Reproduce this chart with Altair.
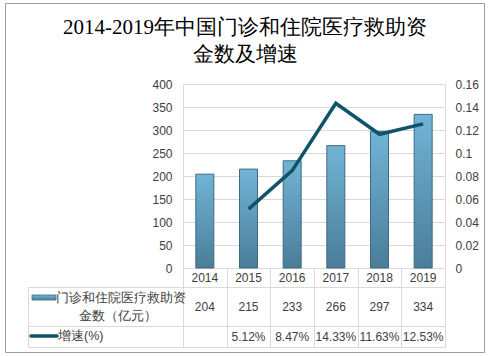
import altair as alt
import pandas as pd

years = ["2014", "2015", "2016", "2017", "2018", "2019"]
amounts = [204, 215, 233, 266, 297, 334]
growth = [None, 5.12, 8.47, 14.33, 11.63, 12.53]
growth_labels = ["", "5.12%", "8.47%", "14.33%", "11.63%", "12.53%"]
title_lines = ["2014-2019年中国门诊和住院医疗救助资", "金数及增速"]
bar_name_lines = ["门诊和住院医疗救助资", "金数（亿元）"]
line_name = "增速(%)"
left_ticks = [0, 50, 100, 150, 200, 250, 300, 350, 400]
right_ticks = [0, 0.02, 0.04, 0.06, 0.08, 0.1, 0.12, 0.14, 0.16]

df = pd.DataFrame({
    "year": years,
    "amount": amounts,
    "rate": [g / 100 if g is not None else None for g in growth],
    "rate_label": growth_labels,
})

W, H = 262, 184
GRID = "#d9d9d9"
TXT = "#404040"
FONT = "Liberation Sans"
LINE_C = "#0f5468"

bar_grad = alt.Gradient(
    gradient="linear",
    stops=[alt.GradientStop(color="#72b4d6", offset=0),
           alt.GradientStop(color="#4a7d98", offset=1)],
    x1=0, x2=0, y1=0, y2=1,
)

xenc = alt.X("year:N", axis=None, scale=alt.Scale(paddingInner=0, paddingOuter=0))
base = alt.Chart(df)

bars = base.mark_bar(fill=bar_grad, stroke="#3f6b82", strokeWidth=1, size=18).encode(
    x=xenc,
    y=alt.Y("amount:Q", scale=alt.Scale(domain=[0, 400]),
            axis=alt.Axis(orient="left", values=left_ticks, grid=True, gridColor=GRID,
                          domain=False, ticks=False, labelPadding=11, labelFontSize=12,
                          labelColor=TXT, labelFont=FONT, title=None)),
)

line = base.mark_line(color=LINE_C, strokeWidth=3.5).encode(
    x=xenc,
    y=alt.Y("rate:Q", scale=alt.Scale(domain=[0, 0.16]),
            axis=alt.Axis(orient="right", values=right_ticks, format="~g", grid=False,
                          domain=False, ticks=False, labelPadding=10, labelFontSize=12,
                          labelColor=TXT, labelFont=FONT, title=None)),
)

one = alt.Data(values=[{"k": 0}])


def hrule(y, x0, x1, color=GRID):
    return alt.Chart(one).mark_rule(color=color, strokeWidth=1).encode(
        x=alt.value(x0), x2=alt.value(x1), y=alt.value(y))


def vrule(x, y0, y1, color=GRID):
    return alt.Chart(one).mark_rule(color=color, strokeWidth=1).encode(
        x=alt.value(x), y=alt.value(y0), y2=alt.value(y1))


rules = [hrule(184.5, 0, W), hrule(203.5, -155, W), hrule(242.5, -155, W), hrule(263.5, -155, W),
         vrule(-154.5, 203, 264)]
for i in range(7):
    rules.append(vrule(round(i * W / 6) + 0.5, 184, 264))

txt_kw = dict(fontSize=12, color=TXT, font=FONT)
year_txt = base.mark_text(**txt_kw).encode(x=xenc, y=alt.value(194), text="year:N")
amt_txt = base.mark_text(**txt_kw).encode(x=xenc, y=alt.value(223), text="amount:Q")
rate_txt = base.mark_text(**txt_kw).encode(x=xenc, y=alt.value(253), text="rate_label:N")

leg_kw = dict(fontSize=12.5, color=TXT, font=FONT)
leg1 = alt.Chart(one).mark_text(text=bar_name_lines[0], align="center", **leg_kw).encode(
    x=alt.value(-62), y=alt.value(214))
leg2 = alt.Chart(one).mark_text(text=bar_name_lines[1], align="center", **leg_kw).encode(
    x=alt.value(-65), y=alt.value(232))
leg3 = alt.Chart(one).mark_text(text=line_name, align="left", **leg_kw).encode(
    x=alt.value(-125), y=alt.value(252))
sym_bar = alt.Chart(one).mark_rect(fill=bar_grad, stroke="#3f6b82", strokeWidth=0.8).encode(
    x=alt.value(-151), x2=alt.value(-127), y=alt.value(211), y2=alt.value(216))
sym_line = alt.Chart(one).mark_rule(color=LINE_C, strokeWidth=3.5, strokeCap="round").encode(
    x=alt.value(-152), x2=alt.value(-126), y=alt.value(252))

ttl_kw = dict(fontSize=21, font="Liberation Serif", color="#000000", align="center", baseline="middle")
title1 = alt.Chart(one).mark_text(text=title_lines[0], **ttl_kw).encode(
    x=alt.value(62), y=alt.value(-56))
title2 = alt.Chart(one).mark_text(text=title_lines[1], **ttl_kw).encode(
    x=alt.value(62), y=alt.value(-29))

frame = alt.Chart(one).mark_rect(fillOpacity=0, stroke="#a0a0a0", strokeWidth=1).encode(
    x=alt.value(-177.5), x2=alt.value(301.5), y=alt.value(-80.5), y2=alt.value(268.5))

chart = alt.layer(
    frame, *rules, bars, line, year_txt, amt_txt, rate_txt, leg1, leg2, leg3, sym_bar, sym_line,
    title1, title2
).resolve_scale(y="independent").properties(
    width=W, height=H,
    autosize=alt.AutoSizeParams(type="none"),
    padding={"left": 183, "top": 84, "right": 46, "bottom": 88},
).configure_view(stroke=None).configure(background="white")

chart.save("out.html", embed_options={"renderer": "svg", "actions": False})
